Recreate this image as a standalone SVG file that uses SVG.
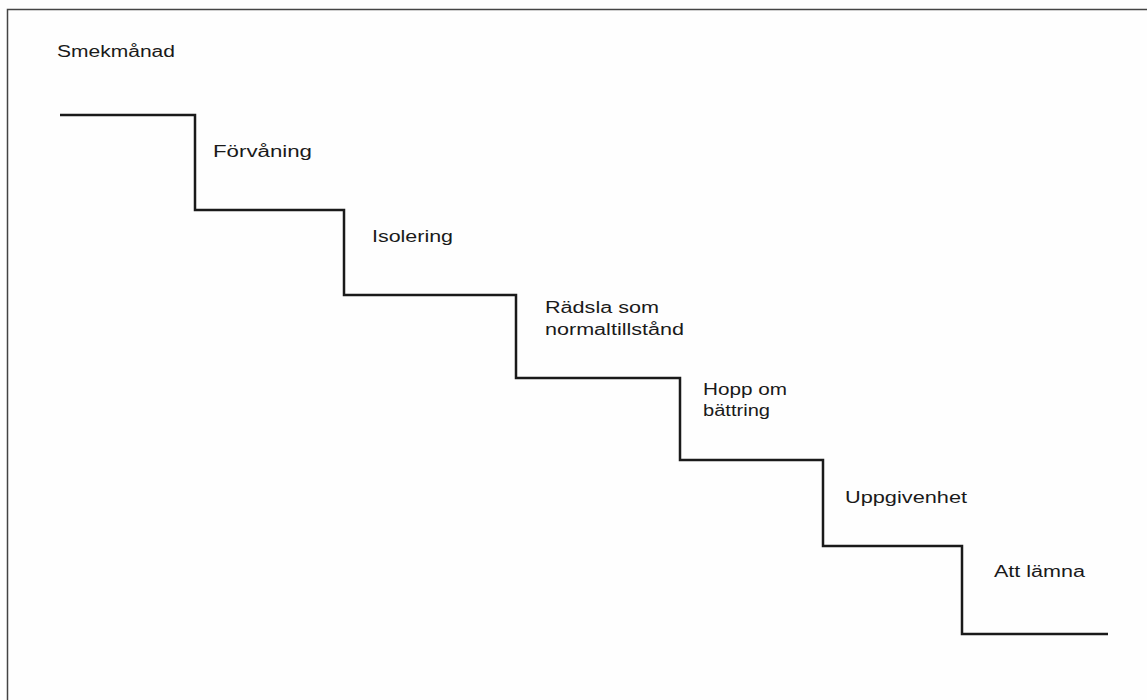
<svg xmlns="http://www.w3.org/2000/svg" width="1147" height="700" viewBox="0 0 1147 700">
<style>
.lbl{font-family:"Liberation Sans",Arial,sans-serif;font-size:16px;fill:#1a1a1a}
.stair{fill:none;stroke:#1a1a1a;stroke-width:2.5;stroke-linejoin:miter}
.frame{fill:none;stroke:#444;stroke-width:1.5}
</style>
<rect width="1147" height="700" fill="#fefefe"/>
<path class="frame" d="M7.5,700 V9.5 H1147"/>
<g id="connectors">
<polyline class="stair" points="60,115 195,115 195,210 344,210 344,295 516,295 516,378 680,378 680,460 823,460 823,546 962,546 962,634 1108,634"/>
</g>
<g id="smekmanad"><text class="lbl" x="57" y="57" textLength="118" lengthAdjust="spacingAndGlyphs">Smekmånad</text></g>
<g id="forvaning"><text class="lbl" x="213" y="157" textLength="99" lengthAdjust="spacingAndGlyphs">Förvåning</text></g>
<g id="isolering"><text class="lbl" x="372" y="242" textLength="81" lengthAdjust="spacingAndGlyphs">Isolering</text></g>
<g id="radsla"><text class="lbl" x="545" y="313" textLength="114" lengthAdjust="spacingAndGlyphs">Rädsla som</text><text class="lbl" x="545" y="335" textLength="139" lengthAdjust="spacingAndGlyphs">normaltillstånd</text></g>
<g id="hopp"><text class="lbl" x="703" y="395" textLength="84" lengthAdjust="spacingAndGlyphs">Hopp om</text><text class="lbl" x="703" y="416" textLength="67" lengthAdjust="spacingAndGlyphs">bättring</text></g>
<g id="uppgivenhet"><text class="lbl" x="845" y="503" textLength="122" lengthAdjust="spacingAndGlyphs">Uppgivenhet</text></g>
<g id="lamna"><text class="lbl" x="994" y="577" textLength="91" lengthAdjust="spacingAndGlyphs">Att lämna</text></g>
</svg>
